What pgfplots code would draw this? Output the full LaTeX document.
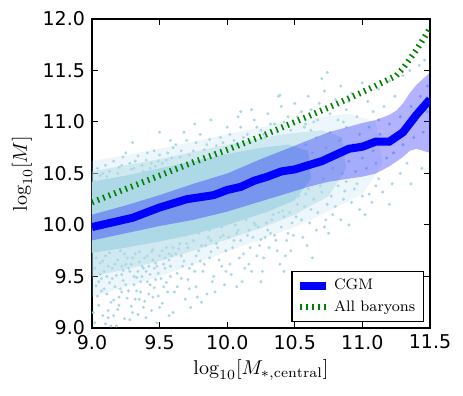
\documentclass[border=0pt]{standalone}
\usepackage{fontspec}
\usepackage{pgfplots}
\pgfplotsset{compat=1.18}
\newfontfamily\tickfont{DejaVu Sans}
\definecolor{scat}{HTML}{ADD8E6}
\definecolor{mplgreen}{HTML}{008000}

\begin{document}
\begin{tikzpicture}
\useasboundingbox (0,0) rectangle (231.5pt,198pt);
\begin{axis}[
  at={(46pt,34pt)}, anchor=south west,
  width=169pt, height=154.5pt, scale only axis,
  xmin=9, xmax=11.5, ymin=9, ymax=12,
  clip marker paths=true,
  xtick={9,9.5,10,10.5,11,11.5},
  ytick={9,9.5,10,10.5,11,11.5,12},
  tick pos=both, tick align=inside,
  major tick length=3pt,
  tick style={black, line width=0.5pt},
  axis line style={line width=0.7pt},
  /pgf/number format/.cd, fixed, fixed zerofill, precision=1, assume math mode=true,
  /pgfplots/.cd,
  tick label style={font=\tickfont\fontsize{9.5}{10}\selectfont},
  xlabel={$\log_{10}[M_{*,\mathrm{central}}]$},
  ylabel={$\log_{10}[M]$},
  xlabel style={at={(axis description cs:0.5,-0.136)}, anchor=center, font=\fontsize{10}{12}\selectfont},
  ylabel style={at={(axis description cs:-0.207,0.5)}, anchor=center, rotate=0, font=\fontsize{10}{12}\selectfont},
  legend style={at={(axis description cs:0.982,0.02)}, anchor=south east,
    draw=black, line width=0.6pt, fill=white,
    font=\fontsize{7.6}{9}\selectfont, row sep=0pt,
    inner xsep=2pt, inner ysep=1.5pt},
  legend cell align=left,
  legend image code/.code={\draw[#1] (0pt,0pt) -- (13pt,0pt);},
]
% scatter cloud, drawn as three density levels
\addplot[fill=scat, fill opacity=0.22, draw=none, forget plot] coordinates {
 (9.0,10.62) (9.5,10.74) (10.0,10.88) (10.5,11.02) (10.9,11.08) (11.1,11.0) (11.15,10.6)
 (11.0,10.3) (10.7,10.1) (10.5,9.98) (10.0,9.74) (9.5,9.5) (9.0,9.3)};
\addplot[fill=scat, fill opacity=0.45, draw=none, forget plot] coordinates {
 (9.0,10.52) (9.5,10.64) (10.0,10.78) (10.4,10.88) (10.7,10.92) (10.85,10.85) (10.88,10.55)
 (10.75,10.28) (10.5,10.1) (10.25,9.97) (10.0,9.86) (9.75,9.75) (9.5,9.65) (9.25,9.57) (9.0,9.5)};
\addplot[fill=scat, draw=none, forget plot] coordinates {
 (9.0,10.42) (9.25,10.48) (9.5,10.55) (9.75,10.62) (10.0,10.69) (10.25,10.75) (10.45,10.78) (10.6,10.72)
 (10.62,10.45) (10.5,10.24) (10.3,10.13) (10.0,10.0) (9.75,9.91) (9.5,9.84) (9.25,9.78) (9.0,9.73)};
% individual points
\addplot[only marks, mark=*, mark size=0.55pt, color=scat, forget plot] coordinates {
 (9.02,9.05) (9.05,9.22) (9.03,9.41) (9.08,9.12) (9.11,9.33) (9.07,9.48) (9.14,9.02) (9.16,9.27)
 (9.13,9.44) (9.19,9.18) (9.21,9.38) (9.18,9.51) (9.24,9.09) (9.26,9.29) (9.23,9.46) (9.29,9.21)
 (9.31,9.42) (9.28,9.55) (9.34,9.13) (9.36,9.35) (9.33,9.49) (9.39,9.26) (9.41,9.45) (9.38,9.58)
 (9.44,9.17) (9.46,9.39) (9.43,9.52) (9.49,9.31) (9.48,9.60) (9.04,9.31) (9.09,9.55) (9.12,9.17)
 (9.17,9.40) (9.22,9.60) (9.27,9.36) (9.32,9.28) (9.37,9.50) (9.42,9.33) (9.47,9.47) (9.06,9.63)
 (9.15,9.58) (9.25,9.62) (9.35,9.64) (9.45,9.66) (9.01,9.15)
 (9.03,9.68) (9.06,9.52) (9.09,9.38) (9.10,9.70) (9.12,9.60) (9.15,9.48) (9.16,9.12) (9.19,9.66)
 (9.20,9.30) (9.22,9.52) (9.24,9.72) (9.27,9.58) (9.28,9.08) (9.30,9.68) (9.31,9.50) (9.33,9.36)
 (9.35,9.74) (9.37,9.60) (9.38,9.20) (9.40,9.55) (9.41,9.70) (9.43,9.42) (9.45,9.76) (9.46,9.58)
 (9.48,9.05) (9.50,9.70) (9.51,9.48) (9.53,9.62) (9.55,9.78) (9.56,9.35) (9.58,9.50) (9.59,9.70)
 (9.02,9.58) (9.04,9.75) (9.07,9.36) (9.08,9.65) (9.11,9.50) (9.13,9.73) (9.14,9.25) (9.17,9.62)
 (9.18,9.02) (9.21,9.75) (9.23,9.56) (9.25,9.42) (9.26,9.68) (9.29,9.62) (9.32,9.72) (9.34,9.55)
 (9.36,9.45) (9.39,9.68) (9.42,9.60) (9.44,9.74) (9.47,9.63) (9.49,9.53) (9.52,9.75) (9.54,9.58)
 (9.57,9.66) (9.60,9.78) (9.05,9.45) (9.10,9.04) (9.20,9.22) (9.30,9.15) (9.40,9.10) (9.50,9.20)
 (9.57,9.12) (9.12,9.10) (9.22,9.35) (9.35,9.28) (9.45,9.30) (9.53,9.40)
 (9.52,9.24) (9.55,9.44) (9.58,9.60) (9.61,9.35) (9.63,9.53) (9.66,9.70) (9.69,9.28) (9.71,9.47)
 (9.74,9.62) (9.77,9.40) (9.79,9.75) (9.82,9.55) (9.85,9.33) (9.87,9.68) (9.90,9.50) (9.93,9.78)
 (9.96,9.60) (9.98,9.42) (9.54,9.68) (9.60,9.15) (9.67,9.60) (9.73,9.20) (9.80,9.65) (9.88,9.85)
 (9.95,9.88) (9.57,9.72) (9.64,9.77) (9.70,9.82) (9.76,9.55) (9.84,9.80)
 (9.62,9.72) (9.65,9.82) (9.66,9.48) (9.68,9.65) (9.71,9.78) (9.72,9.58) (9.75,9.85) (9.77,9.70)
 (9.78,9.30) (9.81,9.80) (9.83,9.62) (9.86,9.88) (9.88,9.74) (9.89,9.45) (9.92,9.82) (9.94,9.66)
 (9.97,9.90) (9.99,9.75) (10.01,9.88) (10.03,9.52) (10.04,9.78) (10.07,9.92) (10.09,9.68) (10.10,9.85)
 (10.13,9.58) (10.16,9.95) (10.17,9.78) (10.19,9.88) (10.22,9.70) (10.23,9.98) (10.25,9.86) (10.26,9.55)
 (10.29,10.02) (10.31,9.78) (9.63,9.40) (9.72,9.38) (9.81,9.25) (9.91,9.35) (9.99,9.55) (10.07,9.40)
 (10.16,9.62) (10.25,9.45) (9.69,9.90) (9.79,9.92) (9.87,9.95) (9.96,9.98)
 (10.02,9.62) (10.05,9.85) (10.08,9.95) (10.12,9.72) (10.15,9.90) (10.18,9.55) (10.21,10.00) (10.24,9.80)
 (10.27,9.68) (10.30,9.95) (10.33,10.05) (10.36,9.85) (10.39,9.62) (10.42,10.08) (10.45,9.92) (10.48,10.02)
 (10.11,9.45) (10.20,10.02) (10.28,9.88) (10.38,10.12) (10.47,9.75) (10.06,10.00) (10.14,10.05) (10.35,9.90)
 (10.32,9.92) (10.34,10.10) (10.37,9.75) (10.40,9.98) (10.41,10.14) (10.44,9.85) (10.46,10.12) (10.49,9.90)
 (10.51,10.08) (10.53,10.28) (10.56,9.88) (10.57,10.18) (10.61,10.02) (10.64,10.25) (10.67,10.12) (10.69,10.38)
 (10.73,10.05) (10.77,10.28) (10.80,10.18) (10.84,10.05) (10.87,10.33) (10.92,10.22) (10.96,10.40) (11.00,10.28)
 (11.02,10.10) (11.07,10.22) (11.15,10.32) (11.22,10.40) (10.43,9.70) (10.59,9.80) (10.75,9.92) (10.42,9.55)
 (10.63,9.68)
 (10.52,10.20) (10.55,10.05) (10.58,10.30) (10.62,10.15) (10.66,9.95) (10.70,10.32) (10.74,10.20) (10.78,10.10)
 (10.82,10.38) (10.86,10.25) (10.90,10.00) (10.94,10.35) (10.98,10.15) (10.60,10.35) (10.72,9.98) (10.88,10.42)
 (11.05,10.30) (11.12,10.45) (11.20,10.20) (11.28,10.50) (11.36,10.40) (11.44,10.55) (11.10,10.38) (11.33,10.60)
 (9.02,10.42) (9.08,10.50) (9.14,10.38) (9.20,10.56) (9.26,10.45) (9.32,10.62) (9.38,10.52) (9.44,10.60)
 (9.50,10.68) (9.11,10.47) (9.23,10.66) (9.35,10.48) (9.47,10.57) (9.17,10.44) (9.29,10.54) (9.41,10.70)
 (9.04,10.55) (9.06,10.48) (9.10,10.58) (9.13,10.52) (9.16,10.62) (9.19,10.50) (9.22,10.58) (9.25,10.70)
 (9.28,10.60) (9.31,10.55) (9.34,10.67) (9.37,10.58) (9.40,10.63) (9.43,10.55) (9.46,10.72) (9.49,10.62)
 (9.52,10.60) (9.56,10.70) (9.59,10.65) (9.62,10.78) (9.66,10.72) (9.72,10.68) (9.77,10.80) (9.83,10.73)
 (9.87,10.83) (9.92,10.77) (9.97,10.80) (10.02,10.88) (10.07,10.78) (10.12,10.85) (10.17,10.80) (10.22,10.95)
 (10.27,10.88) (10.32,10.98) (10.37,10.90) (10.42,11.00) (10.47,10.92) (10.52,11.05) (10.57,10.95) (10.62,11.12)
 (10.67,11.02) (9.30,10.80) (9.50,10.90) (9.76,10.98) (10.10,11.10) (9.88,11.02)
 (9.55,10.63) (9.60,10.75) (9.65,10.66) (9.70,10.82) (9.75,10.72) (9.80,10.88) (9.85,10.78) (9.90,10.70)
 (9.95,10.85) (10.00,10.95) (9.68,10.90) (9.58,10.82)
 (10.05,10.82) (10.10,10.95) (10.15,10.88) (10.20,11.02) (10.25,10.92) (10.30,11.08) (10.35,10.98) (10.40,11.15)
 (10.45,11.05) (10.50,11.18) (10.18,11.12) (10.38,11.25) (10.08,11.05) (10.28,10.85) (10.39,11.26)
 (10.55,11.10) (10.60,11.25) (10.64,11.00) (10.68,11.18) (10.72,11.30) (10.76,11.08) (10.80,11.22) (10.84,11.35)
 (10.88,11.12) (10.92,11.28) (10.96,11.05) (11.00,11.38) (10.70,11.42) (10.58,10.98) (10.90,11.20) (10.82,11.02)
 (10.74,11.48)
 (11.04,11.20) (11.08,11.10) (11.12,11.32) (11.16,11.15) (11.20,11.40) (11.24,11.25) (11.30,11.45) (11.35,11.50)
 (11.42,11.55) (11.46,11.60) (11.48,11.35)
 (10.52,10.45) (10.55,10.62) (10.58,10.78) (10.60,10.52) (10.63,10.70) (10.66,10.85) (10.68,10.58) (10.71,10.45)
 (10.73,10.75) (10.76,10.90) (10.78,10.55) (10.80,10.68) (10.83,10.82) (10.85,10.50) (10.88,10.95) (10.90,10.62)
 (10.93,10.78) (10.95,10.52) (10.98,10.88) (11.00,10.65) (11.03,10.55) (11.05,10.95) (11.08,10.72) (11.10,10.60)
 (11.13,10.88) (11.15,10.78) (11.18,10.65) (11.20,10.98) (11.23,10.70) (11.25,10.85) (11.28,11.05) (11.30,10.78)
 (11.33,10.95) (11.36,11.15) (11.38,10.85) (11.40,11.02) (11.43,11.25) (11.45,10.90) (11.48,11.10) (10.62,10.92)
 (10.86,11.00) (11.12,11.02)
};
% 16-84 percentile band of the CGM mass
\addplot[fill=blue, fill opacity=0.3, draw=none, forget plot] coordinates {
 (9.0,10.10) (9.25,10.19) (9.5,10.29) (9.75,10.40) (10.0,10.50) (10.25,10.64) (10.5,10.77) (10.75,10.90)
 (11.0,10.99) (11.1,11.02) (11.2,11.07) (11.25,11.11) (11.3,11.18) (11.35,11.28) (11.4,11.36) (11.5,11.48)
 (11.5,10.70) (11.4,10.74) (11.35,10.72) (11.3,10.66) (11.2,10.57) (11.1,10.50) (11.0,10.47) (10.9,10.45)
 (10.75,10.42) (10.6,10.37) (10.5,10.33) (10.25,10.23) (10.0,10.13) (9.75,10.05) (9.5,9.99) (9.25,9.92)
 (9.0,9.85)};
\addplot[blue, line width=4pt] coordinates {
 (9.0,9.98) (9.1,10.01) (9.2,10.04) (9.3,10.07) (9.4,10.12) (9.5,10.17) (9.6,10.21) (9.7,10.25)
 (9.8,10.27) (9.9,10.29) (10.0,10.34) (10.1,10.37) (10.2,10.43) (10.3,10.47) (10.4,10.52) (10.5,10.54)
 (10.6,10.58) (10.7,10.62) (10.8,10.68) (10.9,10.74) (11.0,10.76) (11.1,10.81) (11.2,10.81) (11.3,10.90)
 (11.4,11.07) (11.5,11.22)};
\addlegendentry{CGM}
\addplot[mplgreen, line width=3pt, dash pattern=on 0.8pt off 2.2pt] coordinates {
 (9.0,10.22) (9.25,10.35) (9.5,10.48) (9.75,10.61) (10.0,10.73) (10.25,10.86) (10.5,11.00) (10.75,11.14)
 (11.0,11.29) (11.25,11.45) (11.3,11.52) (11.4,11.70) (11.5,11.91)};
\addlegendentry{All baryons}
\end{axis}
\end{tikzpicture}
\end{document}
